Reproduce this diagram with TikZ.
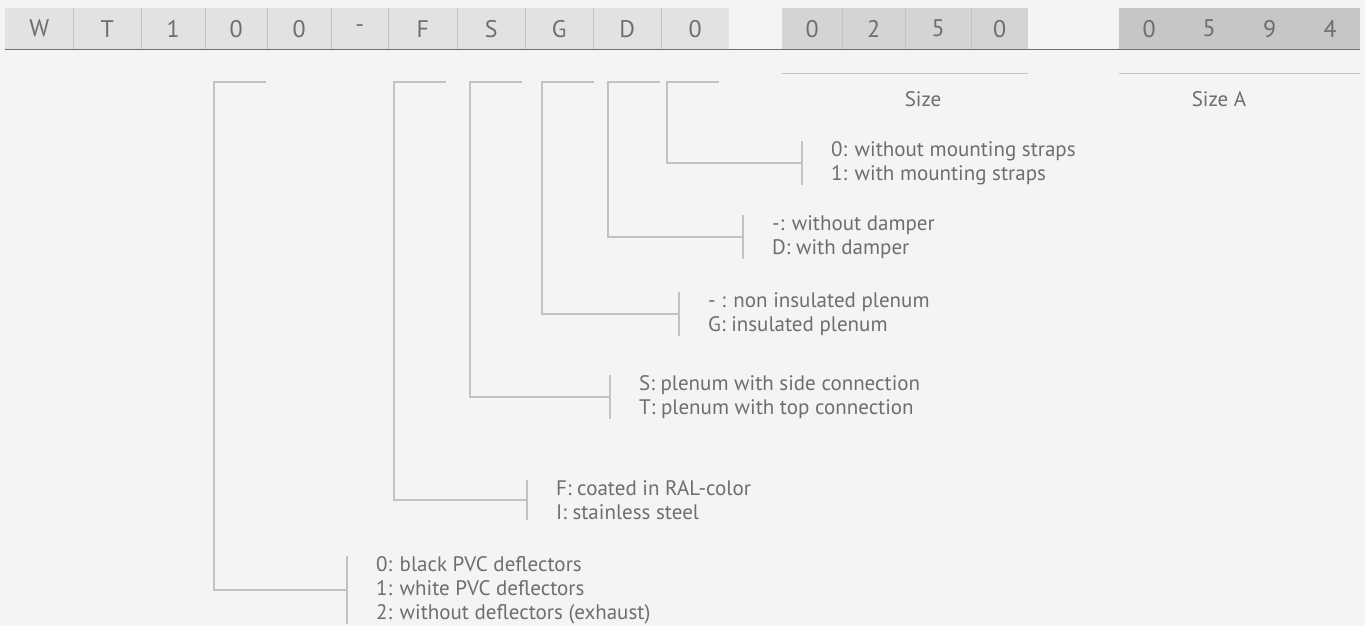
\documentclass[tikz,border=0pt]{standalone}
\usepackage{fontspec}
\setmainfont{PT Sans}
\usetikzlibrary{positioning}

\definecolor{bgcol}{HTML}{F4F4F4}
\definecolor{cellA}{HTML}{E2E2E4}
\definecolor{cellB}{HTML}{D4D4D6}
\definecolor{cellC}{HTML}{C6C6C8}
\definecolor{txtcol}{HTML}{6E6E6E}
\definecolor{linecol}{HTML}{C2C2C2}

\tikzset{
	cell/.style = {anchor = north west, minimum height = 41pt, inner sep = 0pt, text = txtcol, font = \fontsize{24}{24}\selectfont},
	divider/.style = {draw = linecol, line width = 1pt},
	bracket/.style = {draw = linecol, line width = 1.3pt},
	lbl/.style = {anchor = west, align = left, inner sep = 0pt, text = txtcol, font = \fontsize{21}{24}\selectfont},
}

\begin{document}
\begin{tikzpicture}[x = 1pt, y = -1pt]
					\fill [bgcol] (0, 0) rectangle (1365, 626);
					\useasboundingbox (0, 0) rectangle (1365, 626);
					% code boxes
					\foreach \xa/\xb/\t/\n in {5/73/W/1, 73/141/T/2, 141/205/1/3, 205/267/0/4, 267/331/0/5, 331/388/-/6, 388/457/F/7, 457/525/S/8, 525/593/G/9, 593/661/D/10, 661/729/0/11}
						\node [cell, fill = cellA, minimum width = \xb pt - \xa pt] (a\n) at (\xa, 8) {\t};
					\foreach \xa/\xb/\t/\n in {782/842/0/1, 842/905/2/2, 905/971/5/3, 971/1028/0/4}
						\node [cell, fill = cellB, minimum width = \xb pt - \xa pt] (b\n) at (\xa, 8) {\t};
					\foreach \xa/\xb/\t/\n in {1119/1179/0/1, 1179/1239/5/2, 1239/1300/9/3, 1300/1360/4/4}
						\node [cell, fill = cellC, minimum width = \xb pt - \xa pt] (c\n) at (\xa, 8) {\t};
					\foreach \n in {1, ..., 10}
						\draw [divider] (a\n.north east) -- (a\n.south east);
					\foreach \n in {1, 2, 3} {
						\draw [divider] (b\n.north east) -- (b\n.south east);
						\draw [divider, draw = black!22] (c\n.north east) -- (c\n.south east);
					}
					\draw [draw = txtcol, line width = 1.4pt] (a1.south west) -- (c4.south east);

					% sizes
					\draw [bracket, line width = 1pt] ([yshift = -24pt] b1.south west) -- ([yshift = -24pt] b4.south east);
					\draw [bracket, line width = 1pt] ([yshift = -24pt] c1.south west) -- ([yshift = -24pt] c4.south east);
					\node [lbl, anchor = center] (size) at (923, 99) {Size};
					\node [lbl, anchor = center] (sizea) at (1219, 99) {Size A};

					% option labels
					\node [lbl] (deflect) at (376, 590) {0: black PVC deflectors\\1: white PVC deflectors\\2: without deflectors (exhaust)};
					\node [lbl] (finish) at (556, 500) {F: coated in RAL-color\\I: stainless steel};
					\node [lbl] (plenum) at (639, 397) {S: plenum with side connection\\T: plenum with top connection};
					\node [lbl] (insul) at (708, 314) {- : non insulated plenum\\G: insulated plenum};
					\node [lbl] (damper) at (772, 237) {-: without damper\\D: with damper};
					\node [lbl] (straps) at (831, 163) {0: without mounting straps\\1: with mounting straps};

					% brackets
					\coordinate (p1) at (266, 82);
					\coordinate (p2) at (446, 82);
					\coordinate (p3) at (522, 82);
					\coordinate (p4) at (594, 82);
					\coordinate (p5) at (660, 82);
					\coordinate (p6) at (719, 82);
					\foreach \p/\l in {p1/deflect, p2/finish, p3/plenum, p4/insul, p5/damper, p6/straps} {
						\draw [bracket] (\p) -- ++(-52, 0) |- ([xshift = -29pt] \l.west);
						\draw [bracket] ([xshift = -29pt] \l.north west) -- ([xshift = -29pt] \l.south west);
					}
				\end{tikzpicture}
\end{document}
